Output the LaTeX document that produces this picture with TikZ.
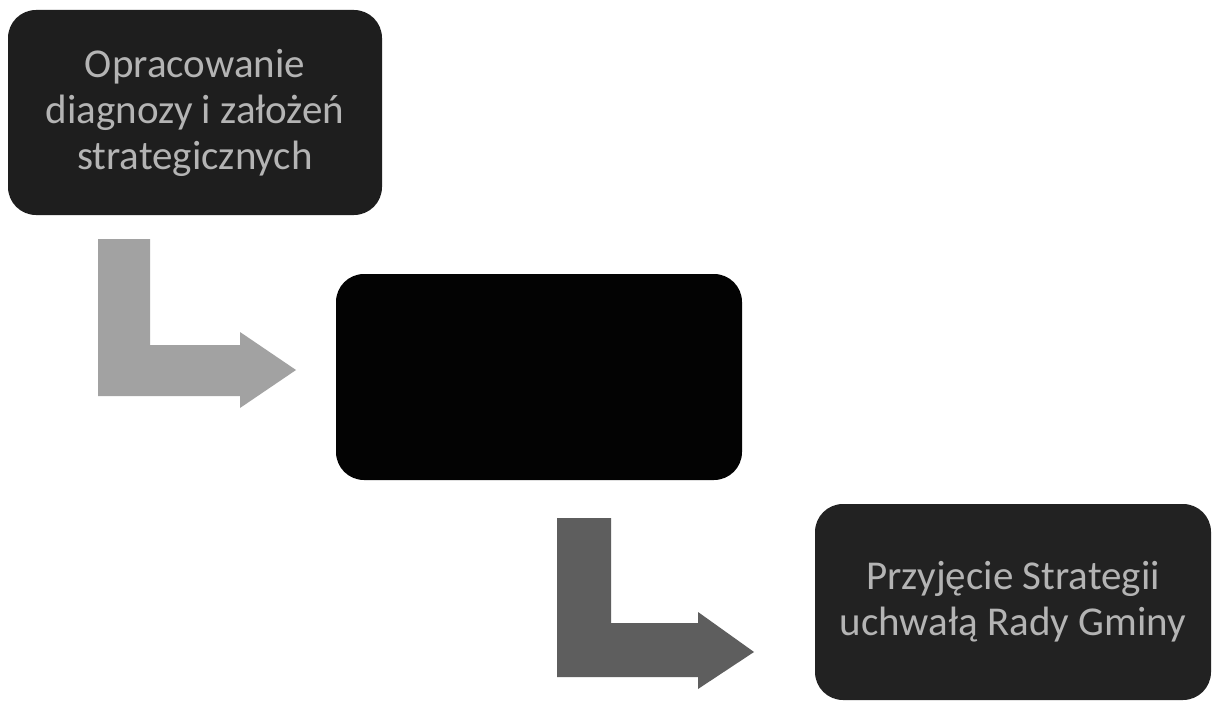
\documentclass[tikz,border=0pt]{standalone}
\usepackage{fontspec}
\setmainfont{Carlito}
\definecolor{boxA}{HTML}{1E1E1E}
\definecolor{boxB}{HTML}{030303}
\definecolor{boxC}{HTML}{222222}
\definecolor{arrA}{HTML}{A2A2A2}
\definecolor{arrB}{HTML}{5E5E5E}
\definecolor{txt}{HTML}{B4B4B4}
\begin{document}
\begin{tikzpicture}[x=1pt,y=-1pt,
  stagebox/.style={rounded corners=28pt, inner sep=0pt, align=center,
    text=txt, font=\fontsize{41}{46}\selectfont}]
\useasboundingbox (0,0) rectangle (1213,706);
\fill[white] (0,0) rectangle (1213,706);
\node[stagebox, fill=boxA, minimum width=374pt, minimum height=205pt] (b1) at (195,112.5)
  {Opracowanie\\diagnozy i założeń\\strategicznych};
\node[stagebox, fill=boxB, minimum width=406pt, minimum height=206pt] (b2) at (539,377) {};
\node[stagebox, fill=boxC, minimum width=396pt, minimum height=196pt] (b3) at (1013,602)
  {Przyjęcie Strategii\\uchwałą Rady Gminy};
% bent arrow 1
\fill[arrA] (98,239) -- (150,239) -- (150,345) -- (240,345) -- (240,332)
  -- (296,370) -- (240,408) -- (240,396) -- (98,396) -- cycle;
% bent arrow 2
\fill[arrB] (557,518) -- (611,518) -- (611,623) -- (698,623) -- (698,612)
  -- (754,652) -- (698,689) -- (698,677) -- (557,677) -- cycle;
\end{tikzpicture}
\end{document}
